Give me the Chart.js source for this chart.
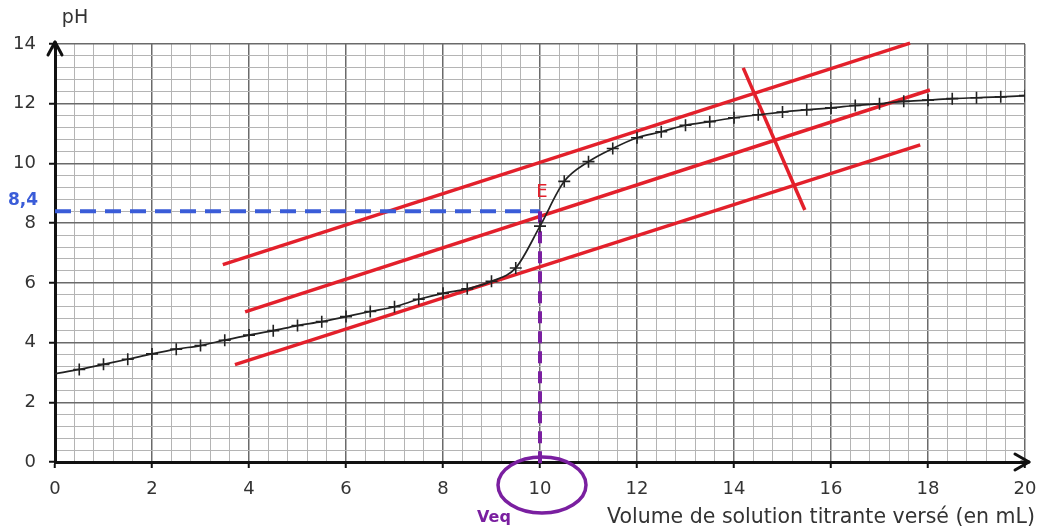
<!DOCTYPE html>
<html><head><meta charset="utf-8">
<script src="https://cdn.jsdelivr.net/npm/chart.js@4.4.1/dist/chart.umd.min.js"></script>
<style>html,body{margin:0;padding:0;background:#fff;overflow:hidden}#wrap{width:1040px;height:532px}</style>
</head><body><div id="wrap"><canvas id="c" width="1040" height="532"></canvas></div>
<script>
// ---- data ----
const volumes = [0,0.5,1,1.5,2,2.5,3,3.5,4,4.5,5,5.5,6,6.5,7,7.5,8,8.5,9,9.5,10,10.5,11,11.5,12,12.5,13,13.5,14,14.5,15,15.5,16,16.5,17,17.5,18,18.5,19,19.5,20];
const phValues = [2.95,3.1,3.27,3.44,3.62,3.78,3.9,4.08,4.25,4.4,4.57,4.7,4.87,5.04,5.2,5.45,5.65,5.8,6.05,6.5,7.9,9.4,10.06,10.5,10.86,11.06,11.28,11.4,11.53,11.63,11.72,11.8,11.86,11.94,12.0,12.08,12.12,12.17,12.2,12.23,12.27];
const xTickLabels = ['0','2','4','6','8','10','12','14','16','18','20'];
const yTickLabels = ['0','2','4','6','8','10','12','14'];
const tangentUpperX = [3.46, 17.63], tangentUpperY = [6.61, 14.03];
const tangentMiddleX = [3.92, 18.04], tangentMiddleY = [5.03, 12.46];
const tangentLowerX = [3.71, 17.84], tangentLowerY = [3.26, 10.62];
const perpendicularX = [14.19, 15.46], perpendicularY = [13.2, 8.44];
const equivalenceVolume = 10, equivalencePH = 8.4;
const xTitle = 'Volume de solution titrante versé (en mL)';
const yTitle = 'pH';
const phLabel = '8,4', pointLabel = 'E', veqLabel = 'Veq';

const pts = (xs, ys) => xs.map((v, i) => ({x: v, y: ys[i]}));
const RED = '#e3202b', BLUE = '#3a5cd8', PURPLE = '#7a1fa0';
const FONT = '"DejaVu Sans", sans-serif';
const isMajor = v => Math.abs(v / 2 - Math.round(v / 2)) < 1e-6;
const labelFor = (list, v) => { const f = list.find(s => Math.abs(Number(s) - v) < 1e-6); return f === undefined ? '' : f; };

const redLine = d => ({data: d, showLine: true, borderColor: RED, borderWidth: 3.5, pointRadius: 0, tension: 0, clip: false});

const overlay = {
  id: 'overlay',
  afterDraw(chart) {
    const {ctx, scales: {x, y}} = chart;
    const x0 = x.getPixelForValue(0), yb = y.getPixelForValue(0);
    const top = y.getPixelForValue(14), right = x.getPixelForValue(20);
    ctx.save();
    ctx.strokeStyle = '#111'; ctx.lineWidth = 3; ctx.lineCap = 'round'; ctx.lineJoin = 'round';
    ctx.beginPath(); ctx.moveTo(x0, top + 4); ctx.lineTo(x0, top - 2); ctx.stroke();
    ctx.beginPath(); ctx.moveTo(x0 - 7, top + 11); ctx.lineTo(x0, top - 2); ctx.lineTo(x0 + 7, top + 11); ctx.stroke();
    ctx.beginPath(); ctx.moveTo(right - 4, yb); ctx.lineTo(right + 4, yb); ctx.stroke();
    ctx.beginPath(); ctx.moveTo(right - 10, yb - 8); ctx.lineTo(right + 4, yb); ctx.lineTo(right - 10, yb + 8); ctx.stroke();

    const xe = x.getPixelForValue(equivalenceVolume), ye = y.getPixelForValue(equivalencePH);
    // circle around Veq
    ctx.strokeStyle = PURPLE; ctx.lineWidth = 3.5;
    ctx.beginPath(); ctx.ellipse(xe + 2, yb + 23, 44, 28, 0, 0, Math.PI * 2); ctx.stroke();

    ctx.textBaseline = 'middle';
    ctx.fillStyle = '#333'; ctx.font = '19px ' + FONT; ctx.textAlign = 'center';
    ctx.fillText(yTitle, x0 + 20, top - 26);
    ctx.font = '20.5px ' + FONT; ctx.textAlign = 'right';
    ctx.fillText(xTitle, right + 10, yb + 56);

    ctx.fillStyle = BLUE; ctx.font = 'bold 17px ' + FONT; ctx.textAlign = 'right';
    ctx.fillText(phLabel, x0 - 17, ye - 11);
    ctx.fillStyle = RED; ctx.font = '18px ' + FONT; ctx.textAlign = 'center';
    ctx.fillText(pointLabel, xe + 2, ye - 19);
    ctx.fillStyle = PURPLE; ctx.font = 'bold 16px ' + FONT; ctx.textAlign = 'center';
    ctx.fillText(veqLabel, xe - 46, yb + 56);
    ctx.restore();
  }
};

const gridColor = c => (c.tick && isMajor(c.tick.value)) ? '#6a6a6a' : '#b4b4b4';
const gridWidth = c => (c.tick && isMajor(c.tick.value)) ? 1.5 : 1;
const tickCol = c => (c.tick && isMajor(c.tick.value)) ? '#111' : 'rgba(0,0,0,0)';

new Chart(document.getElementById('c'), {
  type: 'scatter',
  data: {
    datasets: [
      {data: pts(volumes, phValues), showLine: true, borderColor: '#222', borderWidth: 1.7,
       cubicInterpolationMode: 'monotone', pointStyle: 'cross', pointRadius: volumes.map(v => v === 0 ? 0 : 6),
       pointBorderColor: '#222', pointBorderWidth: 1.6},
      {data: pts([equivalenceVolume, equivalenceVolume], [equivalencePH, -0.3]), showLine: true, borderColor: PURPLE,
       borderWidth: 4, borderDash: [12, 8], pointRadius: 0, clip: false},
      {data: pts([0, equivalenceVolume], [equivalencePH, equivalencePH]), showLine: true, borderColor: BLUE,
       borderWidth: 4, borderDash: [16, 9], pointRadius: 0, clip: false},
      redLine(pts(perpendicularX, perpendicularY)),
      redLine(pts(tangentUpperX, tangentUpperY)),
      redLine(pts(tangentMiddleX, tangentMiddleY)),
      redLine(pts(tangentLowerX, tangentLowerY))
    ]
  },
  options: {
    responsive: false, animation: false, devicePixelRatio: 1,
    layout: {padding: {top: 44, right: 15, left: 0, bottom: 0}},
    plugins: {legend: {display: false}, tooltip: {enabled: false}},
    scales: {
      x: {type: 'linear', min: 0, max: 20,
        ticks: {stepSize: 0.4, autoSkip: false, maxRotation: 0, maxTicksLimit: 200, padding: 11,
          color: '#333', font: {family: FONT, size: 18}, callback: v => labelFor(xTickLabels, v)},
        grid: {color: gridColor, lineWidth: gridWidth, tickLength: 6, tickColor: tickCol, tickWidth: 2},
        border: {color: '#111', width: 3},
        afterFit: s => { s.height = 70; s.paddingRight = 0; s.paddingLeft = 0; }},
      y: {type: 'linear', min: 0, max: 14,
        ticks: {stepSize: 0.4, autoSkip: false, maxTicksLimit: 200, padding: 13,
          color: '#333', font: {family: FONT, size: 18}, callback: v => labelFor(yTickLabels, v)},
        grid: {color: gridColor, lineWidth: gridWidth, tickLength: 6, tickColor: tickCol, tickWidth: 2},
        border: {color: '#111', width: 3},
        afterFit: s => { s.width = 55; s.paddingTop = 0; s.paddingBottom = 0; }}
    }
  },
  plugins: [overlay]
});
</script></body></html>
